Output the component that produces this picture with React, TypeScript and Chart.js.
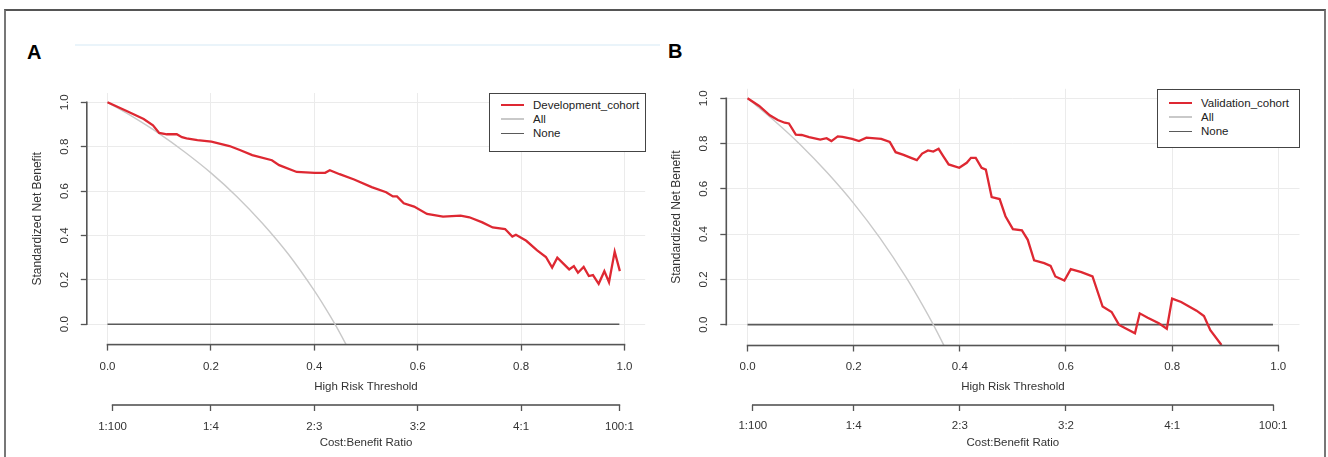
import React, { useEffect, useRef } from "react";
import { Chart, registerables } from "chart.js";

Chart.register(...registerables);

// ---------- data ----------
const thresholdTicks = [0, 0.2, 0.4, 0.6, 0.8, 1.0];
const netBenefitTicks = [0, 0.2, 0.4, 0.6, 0.8, 1.0];
const costBenefitPositions = [0.0099, 0.2, 0.4, 0.6, 0.8, 0.9901];
const costBenefitLabels = ["1:100", "1:4", "2:3", "3:2", "4:1", "100:1"];

// Panel A – development cohort
const devThreshold = [0, 0.036, 0.07, 0.088, 0.1, 0.115, 0.134, 0.144, 0.153, 0.174, 0.201, 0.236, 0.256, 0.28, 0.318, 0.332, 0.366, 0.401, 0.421, 0.43, 0.449, 0.477, 0.511, 0.539, 0.552, 0.56, 0.573, 0.593, 0.618, 0.649, 0.683, 0.7, 0.725, 0.745, 0.769, 0.783, 0.79, 0.81, 0.831, 0.848, 0.86, 0.87, 0.893, 0.902, 0.91, 0.921, 0.931, 0.939, 0.95, 0.961, 0.97, 0.981, 0.991];
const devNetBenefit = [1.0, 0.962, 0.925, 0.896, 0.862, 0.856, 0.856, 0.843, 0.838, 0.83, 0.823, 0.803, 0.785, 0.762, 0.739, 0.717, 0.686, 0.682, 0.682, 0.694, 0.676, 0.652, 0.618, 0.595, 0.576, 0.576, 0.545, 0.53, 0.497, 0.485, 0.489, 0.482, 0.459, 0.436, 0.429, 0.395, 0.403, 0.376, 0.333, 0.303, 0.255, 0.3, 0.247, 0.262, 0.232, 0.258, 0.217, 0.221, 0.182, 0.239, 0.189, 0.327, 0.239];
const devAllThreshold = [0, 0.05, 0.1, 0.15, 0.2, 0.25, 0.3, 0.35, 0.4, 0.42, 0.44, 0.47];
const devAllNetBenefit = [1.0, 0.933, 0.859, 0.775, 0.682, 0.576, 0.454, 0.315, 0.151, 0.078, 0.0, -0.129];

// Panel B – validation cohort
const valThreshold = [0, 0.022, 0.042, 0.057, 0.07, 0.078, 0.091, 0.102, 0.116, 0.137, 0.149, 0.158, 0.17, 0.179, 0.197, 0.21, 0.224, 0.252, 0.268, 0.279, 0.294, 0.308, 0.319, 0.329, 0.34, 0.35, 0.36, 0.369, 0.379, 0.399, 0.413, 0.421, 0.43, 0.441, 0.449, 0.46, 0.475, 0.486, 0.5, 0.517, 0.528, 0.54, 0.559, 0.571, 0.58, 0.597, 0.609, 0.629, 0.65, 0.669, 0.686, 0.7, 0.73, 0.739, 0.754, 0.775, 0.79, 0.8, 0.817, 0.846, 0.86, 0.872, 0.893];
const valNetBenefit = [1.0, 0.966, 0.925, 0.904, 0.892, 0.889, 0.84, 0.838, 0.829, 0.818, 0.824, 0.811, 0.832, 0.83, 0.821, 0.811, 0.826, 0.821, 0.807, 0.762, 0.75, 0.737, 0.727, 0.756, 0.77, 0.765, 0.777, 0.744, 0.708, 0.693, 0.715, 0.737, 0.737, 0.693, 0.685, 0.564, 0.555, 0.479, 0.422, 0.417, 0.375, 0.284, 0.272, 0.26, 0.213, 0.195, 0.245, 0.232, 0.213, 0.08, 0.056, -0.001, -0.038, 0.05, 0.031, 0.006, -0.018, 0.115, 0.1, 0.062, 0.038, -0.024, -0.09];
const valAllThreshold = [0, 0.05, 0.1, 0.15, 0.2, 0.25, 0.3, 0.33, 0.35, 0.38];
const valAllNetBenefit = [1.0, 0.902, 0.794, 0.672, 0.536, 0.381, 0.204, 0.085, 0.0, -0.138];

// Treat none
const noneThreshold = [0, 0.99];
const noneNetBenefit = [0, 0];

// ---------- styles ----------
const RED = "#de2832";
const ALL_GRAY = "#c9c9c9";
const NONE_GRAY = "#5a5a5a";
const AXIS = "#555555";
const GRID = "#ebebeb";
const TEXT = "#333333";
const FONT = '"Liberation Sans", Arial, sans-serif';

type PanelCfg = {
  name: string;
  t: number[];
  v: number[];
  at: number[];
  av: number[];
  padLeft: number;
  yWidth: number;
  padRight: number;
  padTop: number;
  padBottom: number;
  x1Height: number;
  x2Height: number;
  yTickPad: number;
  yTitlePad: number;
  x1Pad: number;
  x1TitlePad: number;
  x2Pad: number;
  x2TitlePad: number;
};

const panelA: PanelCfg = {
  name: "Development_cohort",
  t: devThreshold,
  v: devNetBenefit,
  at: devAllThreshold,
  av: devAllNetBenefit,
  padLeft: 0,
  yWidth: 86.8,
  padRight: 682.8,
  padTop: 93.0,
  padBottom: 4,
  x1Height: 60.4,
  x2Height: 48,
  yTickPad: 8.1,
  yTitlePad: 30.4,
  x1Pad: 9.5,
  x1TitlePad: 11.5,
  x2Pad: 8.6,
  x2TitlePad: 3.2,
};

const panelB: PanelCfg = {
  name: "Validation_cohort",
  t: valThreshold,
  v: valNetBenefit,
  at: valAllThreshold,
  av: valAllNetBenefit,
  padLeft: 650.3,
  yWidth: 76,
  padRight: 28.5,
  padTop: 88.8,
  padBottom: 4,
  x1Height: 59.5,
  x2Height: 48,
  yTickPad: 8.6,
  yTitlePad: 19.1,
  x1Pad: 8.9,
  x1TitlePad: 11.4,
  x2Pad: 8.0,
  x2TitlePad: 3.4,
};

// R-style axis lines: span only from the first to the last tick
const rAxisLines = {
  id: "rAxisLines",
  afterDraw(chart: any) {
    const ctx: CanvasRenderingContext2D = chart.ctx;
    const area = chart.chartArea;
    const x = chart.scales["x"];
    const y = chart.scales["y"];
    const x2 = chart.scales["x2"];
    ctx.save();
    ctx.fillStyle = AXIS;
    const w = 1.6;
    // y axis
    const yTop = y.getPixelForValue(netBenefitTicks[netBenefitTicks.length - 1]);
    const yBot = y.getPixelForValue(netBenefitTicks[0]);
    ctx.fillRect(area.left - w / 2, yTop - w / 2, w, yBot - yTop + w);
    // threshold axis
    const xL = x.getPixelForValue(thresholdTicks[0]);
    const xR = x.getPixelForValue(thresholdTicks[thresholdTicks.length - 1]);
    ctx.fillRect(xL - w / 2, area.bottom - w / 2, xR - xL + w, w);
    // cost:benefit axis
    const cL = x2.getPixelForValue(costBenefitPositions[0]);
    const cR = x2.getPixelForValue(costBenefitPositions[costBenefitPositions.length - 1]);
    ctx.fillRect(cL - w / 2, x2.top - w / 2, cR - cL + w, w);
    ctx.restore();
  },
};

function Panel({ cfg }: { cfg: PanelCfg }) {
  const ref = useRef<HTMLCanvasElement>(null);
  useEffect(() => {
    const font = { family: FONT, size: 11.5 };
    const chart = new Chart(ref.current as HTMLCanvasElement, {
      type: "line",
      data: {
        datasets: [
          {
            label: cfg.name,
            data: cfg.t.map((t, i) => ({ x: t, y: cfg.v[i] })),
            borderColor: RED,
            borderWidth: 2.3,
            pointRadius: 0,
            tension: 0,
            xAxisID: "x",
            yAxisID: "y",
          },
          {
            label: "All",
            data: cfg.at.map((t, i) => ({ x: t, y: cfg.av[i] })),
            borderColor: ALL_GRAY,
            borderWidth: 1.4,
            pointRadius: 0,
            cubicInterpolationMode: "monotone",
            xAxisID: "x",
            yAxisID: "y",
          },
          {
            label: "None",
            data: noneThreshold.map((t, i) => ({ x: t, y: noneNetBenefit[i] })),
            borderColor: NONE_GRAY,
            borderWidth: 1.6,
            pointRadius: 0,
            xAxisID: "x",
            yAxisID: "y",
          },
        ],
      },
      options: {
        animation: false,
        responsive: false,
        events: [],
        layout: {
          padding: { left: cfg.padLeft, right: cfg.padRight, top: cfg.padTop, bottom: cfg.padBottom },
        },
        plugins: { legend: { display: false }, tooltip: { enabled: false } },
        scales: {
          x: {
            type: "linear",
            position: "bottom",
            weight: 0,
            min: -0.04,
            max: 1.04,
            afterBuildTicks: (s: any) => {
              s.ticks = thresholdTicks.map((v) => ({ value: v }));
            },
            afterFit: (s: any) => {
              s.height = cfg.x1Height;
            },
            ticks: {
              autoSkip: false,
              maxRotation: 0,
              minRotation: 0,
              padding: cfg.x1Pad,
              color: TEXT,
              font,
              callback: (v: any) => Number(v).toFixed(1),
            },
            grid: { color: GRID, lineWidth: 1, drawTicks: true, tickLength: 6, tickColor: AXIS, tickWidth: 1.3 },
            border: { display: false },
            title: {
              display: true,
              text: "High Risk Threshold",
              color: TEXT,
              font,
              padding: { top: 0, bottom: cfg.x1TitlePad },
            },
          },
          x2: {
            type: "linear",
            position: "bottom",
            weight: 1,
            min: -0.04,
            max: 1.04,
            afterBuildTicks: (s: any) => {
              s.ticks = costBenefitPositions.map((v) => ({ value: v }));
            },
            afterFit: (s: any) => {
              s.height = cfg.x2Height;
            },
            ticks: {
              autoSkip: false,
              maxRotation: 0,
              minRotation: 0,
              padding: cfg.x2Pad,
              color: TEXT,
              font,
              callback: (_v: any, i: number) => costBenefitLabels[i],
            },
            grid: { drawOnChartArea: false, drawTicks: true, tickLength: 6, tickColor: AXIS, tickWidth: 1.3 },
            border: { display: false },
            title: {
              display: true,
              text: "Cost:Benefit Ratio",
              color: TEXT,
              font,
              padding: { top: 0, bottom: cfg.x2TitlePad },
            },
          },
          y: {
            type: "linear",
            position: "left",
            min: -0.092,
            max: 1.042,
            afterBuildTicks: (s: any) => {
              s.ticks = netBenefitTicks.map((v) => ({ value: v }));
            },
            afterFit: (s: any) => {
              s.width = cfg.yWidth;
            },
            ticks: {
              autoSkip: false,
              minRotation: 90,
              maxRotation: 90,
              crossAlign: "center",
              padding: cfg.yTickPad,
              color: TEXT,
              font,
              callback: (v: any) => Number(v).toFixed(1),
            },
            grid: { color: GRID, lineWidth: 1, drawTicks: true, tickLength: 6, tickColor: AXIS, tickWidth: 1.3 },
            border: { display: false },
            title: {
              display: true,
              text: "Standardized Net Benefit",
              color: TEXT,
              font: { family: FONT, size: 12 },
              padding: { top: cfg.yTitlePad, bottom: 0 },
            },
          },
        },
      } as any,
      plugins: [rAxisLines],
    });
    return () => chart.destroy();
  }, [cfg]);
  return (
    <canvas
      ref={ref}
      width={1328}
      height={457}
      style={{ position: "absolute", left: 0, top: 0, width: 1328, height: 457 }}
    />
  );
}

function Legend({
  left,
  top,
  width,
  label,
  firstRow,
}: {
  left: number;
  top: number;
  width: number;
  label: string;
  firstRow: number;
}) {
  const rows = [
    { text: label, color: RED, w: 2.2 },
    { text: "All", color: ALL_GRAY, w: 1.5 },
    { text: "None", color: NONE_GRAY, w: 1.6 },
  ];
  return (
    <div
      style={{
        position: "absolute",
        left,
        top,
        width,
        height: 59,
        border: "1px solid #444",
        boxSizing: "border-box",
        background: "#fff",
      }}
    >
      {rows.map((r, i) => (
        <div
          key={r.text}
          style={{ position: "absolute", left: 0, top: firstRow + i * 14.2 - 7, height: 14, width: "100%" }}
        >
          <div
            style={{
              position: "absolute",
              left: 11,
              top: 7 - r.w / 2,
              width: 23,
              height: r.w,
              background: r.color,
            }}
          />
          <span
            style={{
              position: "absolute",
              left: 43,
              top: 0,
              lineHeight: "14px",
              fontSize: 11.5,
              fontFamily: FONT,
              color: "#222",
              whiteSpace: "nowrap",
            }}
          >
            {r.text}
          </span>
        </div>
      ))}
    </div>
  );
}

export default function App() {
  return (
    <div
      style={{
        position: "fixed",
        left: 0,
        top: 0,
        width: 1328,
        height: 457,
        background: "#fff",
        overflow: "hidden",
      }}
    >
      <div
        style={{
          position: "absolute",
          left: 4,
          top: 9,
          width: 1318,
          height: 470,
          borderTop: "2px solid #555",
          borderLeft: "2px solid #777",
          borderRight: "2px solid #777",
        }}
      />
      <div style={{ position: "absolute", left: 75, top: 44, width: 585, height: 2, background: "#eaf4fa" }} />
      <div
        style={{
          position: "absolute",
          left: 27,
          top: 42.4,
          fontFamily: FONT,
          fontWeight: "bold",
          fontSize: 20,
          lineHeight: "20px",
          color: "#000",
        }}
      >
        A
      </div>
      <div
        style={{
          position: "absolute",
          left: 668,
          top: 41.4,
          fontFamily: FONT,
          fontWeight: "bold",
          fontSize: 20,
          lineHeight: "20px",
          color: "#000",
        }}
      >
        B
      </div>
      <Panel cfg={panelA} />
      <Panel cfg={panelB} />
      <Legend left={489} top={93} width={157} label={panelA.name} firstRow={11} />
      <Legend left={1157} top={89} width={143} label={panelB.name} firstRow={13} />
    </div>
  );
}
